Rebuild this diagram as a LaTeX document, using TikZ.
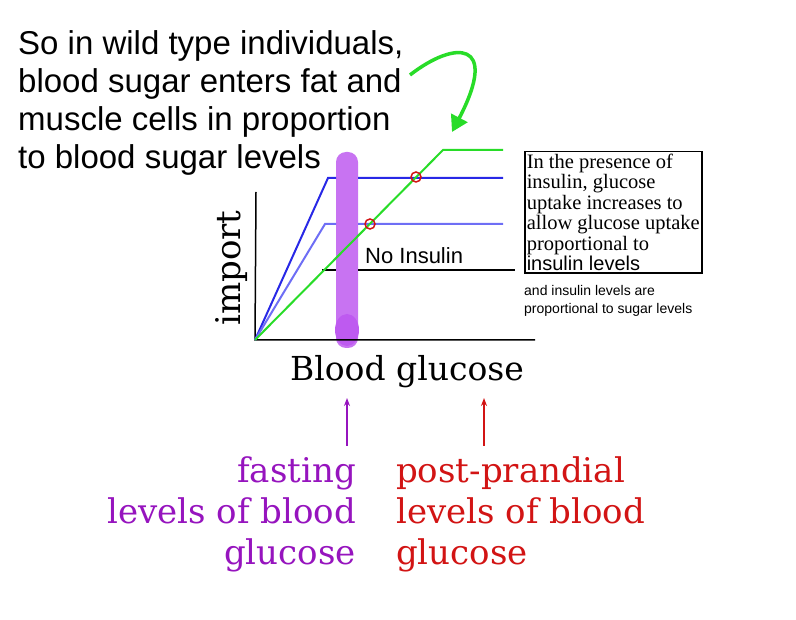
\documentclass[tikz,border=0pt]{standalone}
\usepackage{fontspec}
\setsansfont{Liberation Sans}
\newfontfamily\serf{Liberation Serif}
\newfontfamily\wserf{DejaVu Serif}
\usetikzlibrary{arrows.meta}
\definecolor{gr}{RGB}{40,220,40}
\definecolor{db}{RGB}{40,40,230}
\definecolor{lb}{RGB}{110,110,245}
\definecolor{pu}{RGB}{190,90,240}
\definecolor{tp}{RGB}{150,20,190}
\definecolor{rd}{RGB}{210,20,20}
\begin{document}
\begin{tikzpicture}[x=1pt,y=-1pt,
  curve/.style={line width=2pt},
  sans/.style={font=\sffamily\fontsize{33}{38}\selectfont,align=left,inner sep=0},
  big/.style={font=\wserf\fontsize{34}{41}\selectfont,inner sep=0}]
\useasboundingbox (0,0) rectangle (796,620);
% purple bar
\fill[pu,opacity=0.85,rounded corners=10] (336,152) rectangle (358,348);
\fill[pu] (347,330) ellipse (12 and 16);
% axes
\coordinate (o) at (255,340);
\draw[line width=1.5pt] (256,192) -- (o) -- (535,340);
\draw[line width=1.5pt] (322,270) -- (336,270) (358,270) -- (515,270);
\draw[curve,db] (o) -- (328,178) -- (336,178) (358,178) -- (503,178);
\draw[curve,lb] (o) -- (325,224) -- (336,224) (358,224) -- (503,224);
\draw[curve,gr] (o) -- (443,150) -- (503,150);
\draw[rd,line width=1.5pt] (416,177) circle (5) (370,224) circle (5);
\node[anchor=west,font=\sffamily\fontsize{22}{24}\selectfont,inner sep=0] (ni) at (365,256) {No Insulin};
% text
\node[sans,anchor=north west] (t) at (18,30) {So in wild type individuals,\\blood sugar enters fat and\\muscle cells in proportion\\to blood sugar levels};
\coordinate (a0) at (410,75);
\coordinate (a1) at (452,132);
\draw[gr,line width=3.5pt,-{Triangle[length=16pt,width=18pt]}] (a0) .. controls (455,40) and (500,40) .. (a1);
\node[draw,line width=1.5pt,anchor=north west,inner sep=2pt,align=left,font=\serf\fontsize{20.5}{20.5}\selectfont] (box) at (524,151)
 {In the presence of\\insulin, glucose\\uptake increases to\\allow glucose uptake\\proportional to\\{\sffamily\fontsize{20}{20}\selectfont insulin levels}};
\node[anchor=north west,align=left,font=\sffamily\fontsize{14}{18}\selectfont,inner sep=0] (sm) at (524,285) {and insulin levels are\\proportional to sugar levels};
\node[big,rotate=90] (imp) at (232,268) {import};
\node[big,font=\wserf\fontsize{33}{40}\selectfont] (bg) at (407,372) {Blood glucose};
\node[big,tp,anchor=north east,align=right] (f) at (356,456) {fasting\\levels of blood\\glucose};
\node[big,rd,anchor=north west,align=left] (p) at (396,456) {post-prandial\\levels of blood\\glucose};
\draw[tp,line width=1.5pt,-{Stealth[length=8pt]}] (347,446) -- (347,398);
\draw[rd,line width=1.5pt,-{Stealth[length=8pt]}] (484,446) -- (484,398);
\end{tikzpicture}
\end{document}
